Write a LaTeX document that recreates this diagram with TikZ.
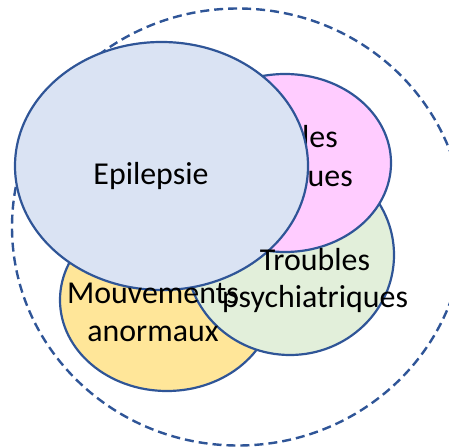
\documentclass[tikz,border=0pt]{standalone}
\usepackage{fontspec}
\setmainfont{Carlito}
\usetikzlibrary{shapes.geometric}
\definecolor{edge}{HTML}{2F5597}
\definecolor{epiblue}{HTML}{DAE3F3}
\definecolor{neuropink}{HTML}{FFCCFF}
\definecolor{psygreen}{HTML}{E2EFDA}
\definecolor{movyellow}{HTML}{FFE699}
\tikzset{
  setshape/.style={ellipse, draw=edge, line width=2.2bp, inner sep=0pt},
  label/.style={font=\fontsize{32}{37}\selectfont, text=black, inner sep=0pt, align=center},
}
\begin{document}
\begin{tikzpicture}[x=1bp, y=-1bp]
\useasboundingbox (0,0) rectangle (449,447);
% outer dashed boundary
\node[ellipse, draw=edge, line width=2.4bp, dash pattern=on 9bp off 5bp,
      minimum width=452bp, minimum height=437bp, inner sep=0pt] (all) at (238,227) {};
% the four overlapping sets, back to front
\node[setshape, fill=movyellow, minimum width=214bp, minimum height=182bp] (mov) at (167,300) {};
\node[setshape, fill=psygreen, minimum width=208bp, minimum height=200bp] (psy) at (290,255) {};
\node[setshape, fill=neuropink, minimum width=212bp, minimum height=178bp] (neuro) at (285,163) {};
\node[label, anchor=base east] (n1) at (338,148) {les};
\node[label, anchor=base east] (n2) at (353,187) {ues};
\node[setshape, fill=epiblue, minimum width=293bp, minimum height=248bp] (epi) at (161.5,166) {};
% labels
\node[label, anchor=base] (tepi) at (151,185) {Epilepsie};
\node[label, anchor=base] (tmov1) at (153,303) {Mouvements};
\node[label, anchor=base] (tmov2) at (153,341) {anormaux};
\node[label, anchor=base] (tpsy1) at (315,270) {Troubles};
\node[label, anchor=base] (tpsy2) at (315,307) {psychiatriques};
\end{tikzpicture}
\end{document}
